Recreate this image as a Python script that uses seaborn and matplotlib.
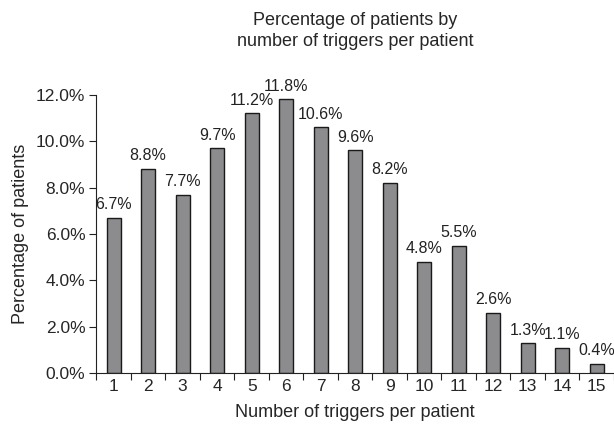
import matplotlib
matplotlib.use("Agg")
import matplotlib.pyplot as plt
import seaborn as sns
import pandas as pd
from matplotlib.ticker import FixedLocator, PercentFormatter

# data
triggers = list(range(1, 16))
percent = [6.7, 8.8, 7.7, 9.7, 11.2, 11.8, 10.6, 9.6, 8.2, 4.8, 5.5, 2.6, 1.3, 1.1, 0.4]
labels = ["6.7%", "8.8%", "7.7%", "9.7%", "11.2%", "11.8%", "10.6%", "9.6%",
          "8.2%", "4.8%", "5.5%", "2.6%", "1.3%", "1.1%", "0.4%"]

df = pd.DataFrame({"triggers": triggers, "percent": percent})

sns.set_style("ticks")
plt.rcParams["font.family"] = ["Liberation Sans", "DejaVu Sans"]

fig = plt.figure(figsize=(6.14, 4.29), dpi=100)
ax = fig.add_axes([0.157, 0.13, 0.843, 0.649])

sns.barplot(data=df, x="triggers", y="percent", color="#8c8c8e",
            edgecolor="#1a1a1a", linewidth=1.0, width=0.4, saturation=1, ax=ax)

for p, lab in zip(ax.patches, labels):
    ax.annotate(lab, (p.get_x() + p.get_width() / 2., p.get_height()),
                ha="center", va="bottom", xytext=(0, 4),
                textcoords="offset points", fontsize=11.5, color="#222222")

ax.set_xlim(-0.5, 14.5)
ax.set_ylim(0, 12)
ax.set_yticks([0, 2, 4, 6, 8, 10, 12])
ax.yaxis.set_major_formatter(PercentFormatter(decimals=1))
# x ticks between categories, labels centered under bars
ax.xaxis.set_major_locator(FixedLocator([i - 0.5 for i in range(16)]))
ax.xaxis.set_major_formatter(plt.NullFormatter())
ax.xaxis.set_minor_locator(FixedLocator(list(range(15))))
ax.set_xticklabels([str(t) for t in triggers], minor=True)
ax.tick_params(axis="x", which="minor", length=0, labelsize=12.5, pad=4)
ax.tick_params(axis="x", which="major", length=5, direction="out", color="#222222")
ax.tick_params(axis="y", length=5, labelsize=12.5, color="#222222", pad=3)

sns.despine(ax=ax)
ax.spines["left"].set_color("#222222")
ax.spines["bottom"].set_color("#222222")

ax.set_xlabel("Number of triggers per patient", fontsize=13, labelpad=7)
ax.set_ylabel("Percentage of patients", fontsize=13, labelpad=5)
ax.set_title("Percentage of patients by\nnumber of triggers per patient", fontsize=13,
             pad=35, linespacing=1.35)

fig.savefig("out.png", dpi=100)
